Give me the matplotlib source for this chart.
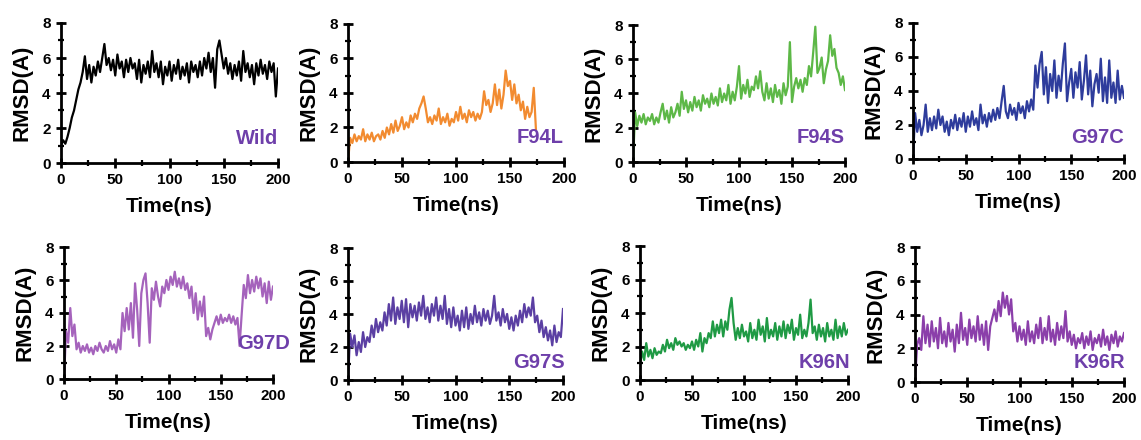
"""RMSD time series for the wild type and seven mutants (2 x 4 panels)."""
import numpy as np
import matplotlib
matplotlib.use("Agg")
import matplotlib.pyplot as plt

plt.rcParams["font.family"] = ["Liberation Sans", "DejaVu Sans"]
plt.rcParams["font.weight"] = "bold"

TIME = np.arange(0, 201, 2)
TIME_F94L = np.arange(0, 176, 2)

WILD = [
    1.0, 1.3, 1.1, 1.5, 2.0, 2.6, 3.0, 3.6, 4.2, 4.6,
    5.2, 6.1, 4.8, 5.6, 4.6, 5.5, 5.0, 5.8, 5.2, 6.0,
    6.8, 5.6, 6.0, 5.3, 5.9, 5.0, 6.2, 5.4, 5.8, 4.9,
    5.9, 5.2, 6.0, 5.4, 5.7, 4.8, 5.9, 4.6, 5.6, 5.1,
    5.8, 4.9, 6.4, 5.2, 5.7, 4.9, 5.8, 4.5, 5.5, 5.0,
    5.8, 4.7, 5.6, 5.1, 5.9, 4.8, 5.5, 5.0, 5.7, 4.6,
    5.8, 5.2, 5.6, 4.9, 5.8, 5.0, 6.0, 5.4, 6.3, 5.2,
    6.0, 4.3, 6.5, 7.0, 6.2, 5.4, 6.0, 5.1, 5.7, 4.8,
    5.6, 5.0, 5.8, 4.7, 6.4, 5.2, 5.7, 4.9, 5.6, 4.5,
    5.7, 5.0, 5.9, 5.1, 5.6, 4.8, 5.8, 5.2, 5.7, 3.8,
    5.4,
]
F94L = [
    0.0, 1.4, 1.1, 1.6, 1.2, 1.5, 1.3, 1.9, 1.2, 1.6,
    1.3, 1.7, 1.2, 1.5, 1.6, 1.3, 1.8, 1.4, 2.0, 1.6,
    2.2, 1.7, 2.4, 1.8, 2.1, 2.6, 1.9, 2.3, 2.0, 2.7,
    2.3, 2.8, 2.5, 3.1, 3.4, 3.8, 3.1, 2.3, 2.6, 2.2,
    2.7, 2.4, 3.1, 2.2, 2.6, 2.3, 2.8, 2.1, 2.5, 2.3,
    2.9, 2.4, 3.2, 2.5, 2.8, 2.3, 3.0, 2.6, 2.9, 2.4,
    2.8, 2.5, 2.9, 4.1, 3.3, 3.6, 2.9, 3.4, 4.5, 3.3,
    4.2, 3.1, 3.9, 5.3, 4.4, 4.7, 3.6, 4.5, 3.4, 3.9,
    3.0, 3.5, 2.5, 3.2, 2.6, 2.9, 4.3, 1.9,
]
F94S = [
    0.0, 2.9, 2.1, 2.7, 2.3, 2.8, 2.2, 2.6, 2.4, 2.8,
    2.2, 2.6, 2.3, 2.9, 3.4, 2.5, 3.0, 2.3, 3.2, 2.6,
    2.9, 3.4, 2.7, 4.1, 3.1, 3.6, 2.9, 3.5, 3.0, 3.8,
    3.2, 3.6, 3.0, 3.9, 3.4, 3.7, 3.2, 4.0, 3.4, 3.8,
    3.3, 4.3, 3.5, 4.0, 3.6, 4.5, 3.4, 4.1, 3.6, 4.4,
    5.6, 3.7, 4.5, 4.0, 4.8, 3.8, 4.4, 4.2, 5.0, 4.3,
    5.3, 4.1, 3.6, 4.6, 3.7, 4.3, 3.5, 4.5, 3.8, 4.2,
    3.4, 4.6, 3.9, 4.4, 7.0, 3.5, 4.4, 4.9, 4.3, 4.8,
    4.1, 4.9, 4.5, 5.6, 5.0, 6.4, 7.9, 5.2, 5.5, 6.1,
    4.6, 5.4, 5.9, 7.4, 6.2, 6.6, 5.5, 5.2, 4.5, 5.0,
    4.2,
]
G97C = [
    0.0, 2.7, 1.6, 2.3, 1.4, 2.0, 3.2, 1.6, 2.4, 1.7,
    2.5, 1.8, 2.9, 2.0, 2.5, 1.6, 2.2, 1.4, 2.3, 1.8,
    2.6, 1.7, 2.4, 1.9, 2.7, 1.6, 2.5, 1.9, 2.8, 2.0,
    2.4, 1.7, 3.2, 2.1, 2.6, 1.9, 2.7, 2.2, 2.9, 2.3,
    3.0, 2.4, 3.4, 4.3, 2.8, 2.4, 3.2, 2.6, 3.0, 2.3,
    3.3, 2.7, 3.1, 2.4, 3.4, 2.8, 3.5, 2.9, 5.5, 4.2,
    5.6, 6.3, 3.8, 5.4, 3.3, 5.0, 4.0, 5.8, 3.6, 4.9,
    4.0, 5.6, 6.8, 3.4, 4.5, 5.3, 3.6, 5.1, 4.2, 5.7,
    3.5, 4.6, 6.1, 3.8, 5.2, 3.1, 4.4, 5.0, 3.9, 5.9,
    3.4, 4.8, 3.3, 5.8, 3.6, 4.5, 3.3, 5.2, 3.5, 4.3,
    3.6,
]
G97D = [
    0.0, 2.9, 2.2, 4.3, 2.6, 3.3, 1.8, 2.2, 1.6, 2.0,
    1.7, 2.1, 1.6, 1.9, 1.5, 2.0, 1.7, 2.2, 1.8, 1.6,
    2.0, 1.7, 2.3, 1.8, 2.1, 1.6, 2.4, 1.8, 4.0, 2.9,
    4.3, 3.0, 4.6, 2.5, 5.8, 4.2, 2.0, 5.2, 6.0, 6.4,
    4.6, 2.2, 5.5, 4.8, 5.9, 5.0, 4.4, 5.6, 5.2, 6.0,
    5.4, 6.2, 5.7, 6.5, 5.6, 6.1, 5.5, 6.2, 5.4, 5.8,
    4.9, 5.6, 4.0, 5.2, 3.6, 4.7, 3.8, 5.0, 2.6, 3.1,
    2.4, 3.0, 3.4, 3.8, 3.3, 3.9, 3.4, 3.7, 3.5, 3.9,
    3.4, 3.8, 3.3, 3.7, 2.0, 3.9, 5.7, 4.9, 6.3, 5.2,
    6.0, 5.3, 6.2, 5.5, 6.1, 5.0, 5.8, 4.6, 5.9, 4.8,
    5.6,
]
G97S = [
    0.0, 2.8, 2.0, 2.7, 1.5, 2.3, 1.7, 2.9, 2.0, 2.6,
    2.3, 3.3, 2.6, 3.7, 2.9, 3.5, 3.0, 4.1, 3.3, 4.6,
    3.6, 5.0, 3.4, 4.4, 3.7, 4.8, 3.5, 4.9, 3.2, 4.6,
    3.8, 4.5, 3.6, 4.7, 3.9, 5.1, 3.7, 4.4, 3.5, 4.6,
    3.9, 5.0, 3.6, 4.5, 3.7, 5.1, 3.4, 4.3, 3.2, 4.4,
    3.3, 3.9, 3.0, 4.2, 3.2, 4.4, 3.1, 4.0, 3.4, 4.5,
    3.5, 4.1, 3.3, 4.3, 3.6, 4.2, 3.4, 3.9, 5.1, 3.6,
    4.1, 3.3, 4.3, 3.5, 4.0, 3.1, 3.8, 3.0, 3.9, 3.3,
    4.2, 3.5, 4.6, 3.8, 4.4, 3.9, 5.0, 3.5, 3.9, 2.9,
    3.6, 2.6, 3.2, 2.4, 3.0, 2.1, 3.3, 2.3, 2.9, 2.6,
    4.3,
]
K96N = [
    0.9, 1.7, 1.2, 2.2, 1.4, 1.8, 1.3, 1.9, 1.5, 1.7,
    1.6, 2.1, 1.7, 2.4, 1.9, 2.2, 1.8, 2.5, 2.1, 2.3,
    2.0, 2.2, 1.8, 2.1, 1.9, 2.3, 1.8, 2.4, 2.0, 2.8,
    1.7, 2.5, 2.2, 2.8, 2.5, 3.5, 2.6, 3.3, 2.8, 3.6,
    2.6, 3.5, 3.0, 4.2, 4.9, 3.4, 2.4, 3.1, 2.5, 3.3,
    2.6, 2.9, 2.3, 3.4, 2.5, 3.0, 2.4, 3.6, 2.7, 3.2,
    2.3, 3.7, 2.5, 3.0, 2.6, 3.4, 2.4, 3.2, 2.6, 3.5,
    2.5, 3.3, 2.8, 3.6, 2.4, 3.1, 2.7, 3.9, 2.5, 3.0,
    2.6, 3.4, 4.8, 2.8, 3.2, 2.4, 3.3, 2.6, 3.1, 2.3,
    3.4, 2.6, 3.0, 2.4, 3.6, 2.5, 3.2, 2.6, 3.4, 2.7,
    3.0,
]
K96R = [
    0.0, 2.2, 2.6, 1.9, 3.9, 2.3, 3.4, 2.1, 3.6, 2.4,
    3.2, 2.0, 3.8, 2.3, 3.0, 2.1, 3.5, 2.4, 3.1, 1.8,
    3.4, 2.3, 4.1, 2.5, 3.2, 2.2, 3.7, 2.6, 3.3, 2.4,
    3.9, 2.5, 3.4, 2.2, 3.6, 1.9, 3.3, 3.8, 4.3, 3.6,
    4.8, 3.9, 5.3, 4.4, 5.1, 4.0, 4.9, 3.0, 3.5, 2.4,
    3.3, 2.5, 3.1, 2.2, 3.6, 2.4, 3.0, 2.3, 3.4, 2.6,
    3.8, 2.3, 3.2, 2.5, 3.9, 2.4, 3.1, 2.2, 3.5, 2.5,
    3.3, 2.6, 4.2, 2.4, 3.0, 2.2, 2.8, 2.0, 2.6, 2.3,
    2.9, 2.0, 2.7, 2.2, 3.0, 1.9, 2.6, 2.3, 2.8, 2.1,
    3.1, 2.2, 2.7, 1.9, 2.8, 2.3, 3.0, 2.1, 2.7, 2.4,
    2.9,
]

NAMES = ["Wild", "F94L", "F94S", "G97C", "G97D", "G97S", "K96N", "K96R"]
SERIES = [WILD, F94L, F94S, G97C, G97D, G97S, K96N, K96R]
TIMES = [TIME, TIME_F94L, TIME, TIME, TIME, TIME, TIME, TIME]

# ---- styles / layout ----
COLORS = ["#000000", "#F28B30", "#5DB847", "#2E3C9C",
          "#A563BC", "#5B3FA3", "#1F9A44", "#8B3FAA"]
LABEL_COLOR = "#6E3FAA"
# (x0, x200, y8, y0) in pixels of the 1141x440 figure
BOXES = [
    (61, 278, 23, 163), (348, 564, 24, 162), (633, 845, 25, 162), (913, 1124, 23, 159),
    (64, 273, 247, 379), (348, 563, 248, 380), (640, 848, 246, 380), (915, 1124, 247, 382),
]
LABEL_POS = [(200, 0.85), (200, 0.85), (200, 0.85), (200, 0.7),
             (216, 1.55), (202, 0.5), (202, 0.5), (201, 0.6)]

W, H = 1141, 440
fig = plt.figure(figsize=(W / 100, H / 100), dpi=100)

for name, t, y, color, box, lpos in zip(NAMES, TIMES, SERIES, COLORS, BOXES, LABEL_POS):
    x0, x1, y8, y0 = box
    ax = fig.add_axes([x0 / W, 1 - y0 / H, (x1 - x0) / W, (y0 - y8) / H])
    ax.plot(t, y, color=color, lw=1.6)
    ax.set_xlim(0, 200)
    ax.set_ylim(0, 8)
    ax.set_xticks([0, 50, 100, 150, 200])
    ax.set_xticks([25, 75, 125, 175], minor=True)
    ax.set_yticks([0, 2, 4, 6, 8])
    ax.set_yticks([1, 3, 5, 7], minor=True)
    for side in ("top", "right"):
        ax.spines[side].set_visible(False)
    for side in ("left", "bottom"):
        ax.spines[side].set_linewidth(2.0)
    ax.tick_params(which="major", direction="inout", length=7, width=2.0,
                   labelsize=11, pad=4)
    ax.tick_params(which="minor", direction="inout", length=4, width=1.6)
    for lab in ax.get_xticklabels() + ax.get_yticklabels():
        lab.set_fontweight("bold")
    ax.set_xlabel("Time(ns)", fontsize=15, fontweight="bold", labelpad=7)
    ax.set_ylabel("RMSD(A)", fontsize=16, fontweight="bold", labelpad=7)
    ax.text(lpos[0], lpos[1], name, ha="right", va="bottom", fontsize=14.5,
            fontweight="bold", color=LABEL_COLOR, clip_on=False)

fig.savefig("out.png", dpi=100)
